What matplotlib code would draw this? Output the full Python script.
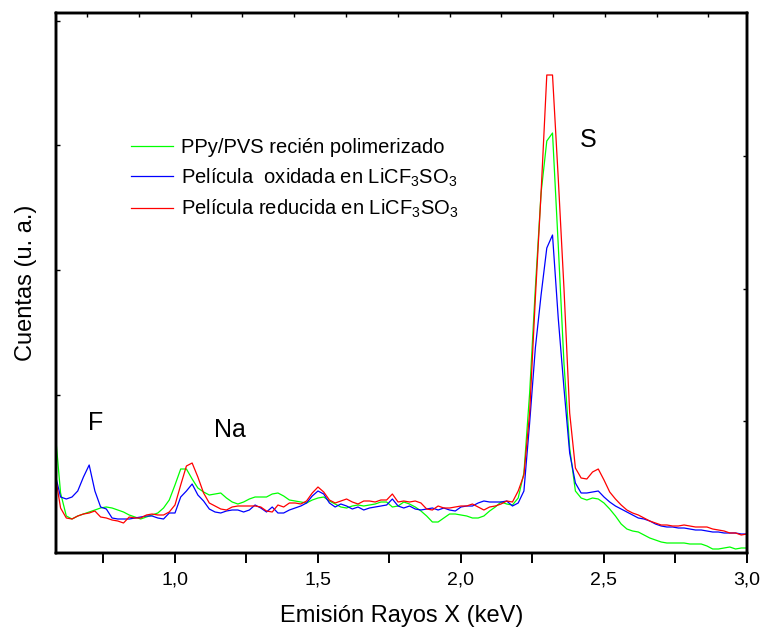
"""EDS spectra of PPy/PVS films: counts versus X-ray emission energy."""

from matplotlib import pyplot
from matplotlib import ticker
import numpy

# Energy grid (keV) shared by the three spectra.
energy = numpy.round(numpy.arange(0.58, 3.001, 0.02), 2)

# Counts (arbitrary units).
counts_fresh = [
    125, 60, 37, 34, 37, 39, 41, 43, 45, 46, 45, 43, 41, 38, 36, 34, 36, 38,
    40, 45, 53, 68, 84, 84, 74, 65, 61, 58, 59, 60, 55, 51, 49, 51, 54, 56,
    56, 56, 59, 60, 57, 53, 52, 51, 50, 53, 55, 56, 52, 49, 46, 45, 47, 48,
    47, 48, 49, 51, 51, 46, 47, 51, 49, 46, 42, 37, 31, 31, 35, 39, 39, 38,
    37, 35, 35, 37, 42, 46, 51, 49, 48, 55, 80, 160, 265, 360, 412, 420, 308,
    190, 105, 62, 55, 53, 55, 54, 50, 44, 37, 29, 24, 22, 21, 18, 15, 13, 11,
    10, 10, 10, 10, 9, 9, 9, 7, 4, 4, 5, 6, 4, 5, 5]
counts_oxidized = [
    80, 56, 54, 56, 62, 76, 88, 62, 46, 44, 35, 34, 34, 34, 35, 36, 37, 37,
    35, 34, 40, 40, 56, 62, 69, 58, 52, 44, 41, 40, 42, 43, 43, 41, 43, 48,
    45, 41, 46, 40, 40, 43, 45, 47, 50, 57, 62, 59, 50, 46, 49, 47, 44, 46,
    43, 45, 46, 47, 48, 54, 47, 45, 47, 44, 43, 44, 45, 43, 45, 43, 42, 46,
    47, 47, 50, 52, 51, 51, 51, 52, 47, 50, 62, 130, 205, 258, 305, 318, 235,
    165, 100, 70, 60, 60, 61, 62, 56, 51, 47, 44, 41, 38, 35, 34, 32, 29, 27,
    26, 26, 25, 25, 24, 23, 23, 22, 21, 21, 20, 20, 20, 19, 19]
counts_reduced = [
    80, 45, 35, 34, 37, 39, 40, 42, 36, 35, 33, 32, 30, 36, 35, 35, 38, 39,
    38, 38, 41, 48, 68, 87, 90, 76, 60, 50, 47, 44, 43, 46, 47, 47, 47, 47,
    46, 42, 41, 48, 46, 50, 50, 49, 52, 60, 66, 61, 53, 50, 52, 54, 51, 49,
    52, 52, 51, 53, 53, 59, 51, 52, 51, 52, 50, 44, 43, 47, 45, 45, 46, 47,
    47, 49, 46, 43, 46, 47, 49, 52, 51, 62, 78, 140, 255, 360, 478, 478, 375,
    265, 140, 85, 75, 74, 81, 84, 73, 61, 54, 48, 43, 40, 38, 35, 32, 30, 28,
    28, 27, 27, 28, 27, 26, 26, 26, 24, 23, 22, 20, 20, 18, 19]

labels = ['PPy/PVS recién polimerizado',
          'Película  oxidada en LiCF$_3$SO$_3$',
          'Película reducida en LiCF$_3$SO$_3$']
colors = ['#00ff00', '#0000ff', '#ff0000']

# Element labels placed next to their emission peaks.
peak_names = ['F', 'Na', 'S']
peak_energy = [0.724, 1.192, 2.444]
peak_height = [130, 123, 413]

pyplot.rcParams['font.family'] = ['Liberation Sans', 'DejaVu Sans']
pyplot.rcParams['mathtext.default'] = 'regular'

fig = pyplot.figure(figsize=(7.63, 6.35), dpi=100)
ax = fig.add_axes([56 / 763, 82 / 635, 691 / 763, 540 / 635])

for series, label, color in zip(
        [counts_fresh, counts_oxidized, counts_reduced], labels, colors):
    ax.plot(energy, series, color=color, linewidth=0.9, label=label)

for name, x, y in zip(peak_names, peak_energy, peak_height):
    ax.text(x, y, name, fontsize=18, ha='center', va='center')

ax.set_xlim(0.584, 3.0)
ax.set_ylim(0.0, 540.0)

# Bottom axis: ticks every 0.25 keV, labels with decimal comma every 0.5.
ax.xaxis.set_major_locator(ticker.MultipleLocator(0.5))
ax.xaxis.set_minor_locator(ticker.MultipleLocator(0.25))
ax.xaxis.set_major_formatter(
    ticker.FuncFormatter(lambda v, pos: f'{v:.1f}'.replace('.', ',')))
ax.tick_params(axis='x', which='both', direction='out', length=7, width=1.4,
               labelsize=14, pad=6, top=False)
# Left axis: only a few small inner ticks, no labels.
ax.set_yticks([158, 283, 408, 532])
ax.tick_params(axis='y', direction='in', length=3, width=1.0,
               labelleft=False, right=False)

# Small inner ticks along the top and right frames.
ax_top = ax.twiny()
ax_top.set_xlim(ax.get_xlim())
ax_top.set_xticks(numpy.arange(0.693, 3.0, 0.181))
ax_top.tick_params(direction='in', length=3, width=1.0, labeltop=False)
ax_right = ax.twinx()
ax_right.set_ylim(ax.get_ylim())
ax_right.set_yticks([132, 264, 397])
ax_right.tick_params(direction='in', length=3, width=1.0, labelright=False)

for axis in (ax, ax_top, ax_right):
    for spine in axis.spines.values():
        spine.set_linewidth(1.7)

ax.set_xlabel('Emisión Rayos X (keV)', fontsize=17, labelpad=12)
ax.set_ylabel('Cuentas (u. a.)', fontsize=17, labelpad=14)

ax.legend(loc='upper left', bbox_to_anchor=(0.1085, 0.768), frameon=False,
          fontsize=14.5, handlelength=2.1, handletextpad=0.4,
          borderaxespad=0.0, borderpad=0.0, labelspacing=0.45)

fig.savefig('out.png', dpi=100)
